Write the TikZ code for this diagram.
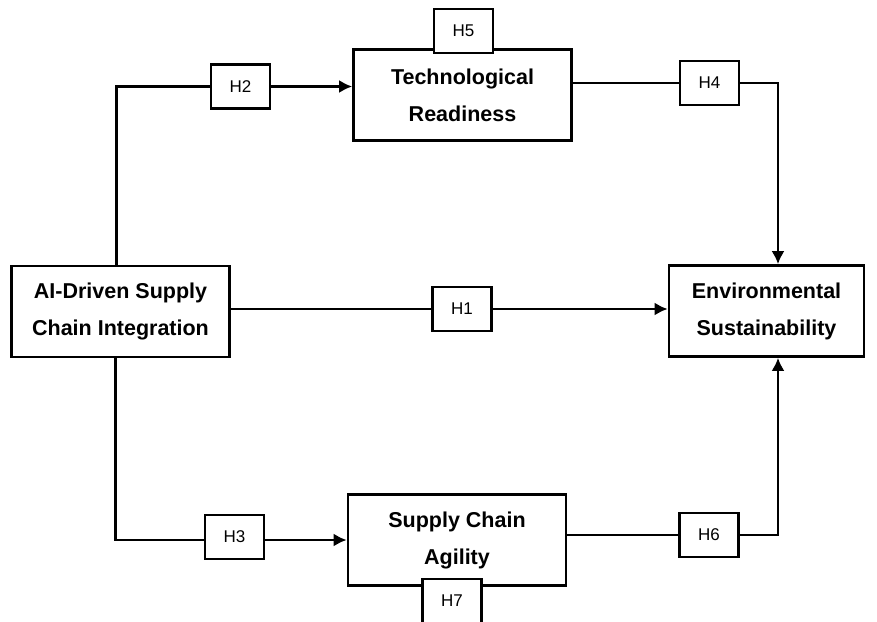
\documentclass[tikz,border=0pt]{standalone}
\usepackage{fontspec}
\setmainfont{Liberation Sans}
\usepackage{tikz}
\usetikzlibrary{positioning}
\usetikzlibrary{calc}
\usetikzlibrary{arrows.meta}
\tikzset{>=stealth}
\tikzstyle{block} = [draw, rectangle, fill=white, line width=2.6pt,
minimum width=218pt, minimum height=91pt, align=center,
font=\bfseries\fontsize{21.5}{37}\selectfont]
\tikzstyle{hyp} = [draw, rectangle, fill=white, line width=2.6pt,
minimum width=59pt, minimum height=44pt, font=\fontsize{17}{19}\selectfont]
\tikzstyle{line} = [draw, line width=2.6pt]

\begin{document}
\begin{tikzpicture}[x=1pt, y=-1pt,
	arrow/.style={line, -{Latex[length=13pt,width=13pt]}}]
	\useasboundingbox (0,0) rectangle (877,621);
	\node [block] (AI) at (120.5,311.5) {AI-Driven Supply\\Chain Integration};
	\node [block] (TR) at (462.5,95) {Technological\\Readiness};
	\node [block, minimum width=195pt] (ES) at (766.5,311) {Environmental\\Sustainability};
	\node [block] (SCA) at (457,540) {Supply Chain\\Agility};
	%% Hypotheses
	\node [hyp] (H2) at (240.5,86.5) {H2};
	\node [hyp] (H5) at (463.5,31) {H5};
	\node [hyp] (H4) at (709.5,83) {H4};
	\node [hyp] (H1) at (462,309) {H1};
	\node [hyp] (H3) at (234.5,537) {H3};
	\node [hyp] (H6) at (709,535) {H6};
	\node [hyp] (H7) at (452,601) {H7};
	%% Paths
	\draw [line] ([xshift=-4pt]AI.north) |- (H2.west);
	\draw [arrow] (H2.east) -- (TR.west |- H2);
	\draw [line] (TR.east |- H4) -- (H4.west);
	\draw [arrow] (H4.east) -| ([xshift=11.5pt]ES.north);
	\draw [line] (AI.east |- H1) -- (H1.west);
	\draw [arrow] (H1.east) -- (ES.west |- H1);
	\draw [line] ([xshift=-5pt]AI.south) |- ($(H3.west)+(0,3)$);
	\draw [arrow] ($(H3.east)+(0,3)$) -- (SCA.west |- 0,540);
	\draw [line] (SCA.east |- H6) -- (H6.west);
	\draw [arrow] (H6.east) -| ([xshift=11.5pt]ES.south);
	%% redraw overlapping labels on top
	\node [hyp] at (H5) {H5};
	\node [hyp] at (H7) {H7};
\end{tikzpicture}
\end{document}
